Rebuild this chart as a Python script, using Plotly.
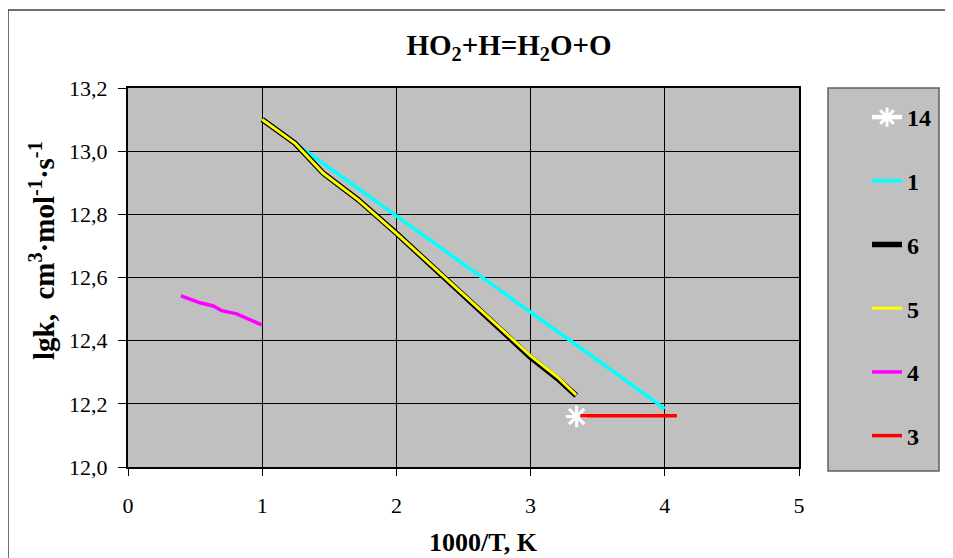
import plotly.graph_objects as go

# ---- data ----
s14_x = [3.343]
s14_y = [12.16]

s1_x = [1.0, 1.5, 2.0, 2.5, 3.0, 3.5, 4.0]
s1_y = [13.10, 12.947, 12.795, 12.64, 12.49, 12.338, 12.185]

s6_x = [1.0, 1.245, 1.455, 1.716, 2.0, 2.25, 2.5, 2.75, 3.0, 3.2, 3.34]
s6_y = [13.10, 13.025, 12.93, 12.846, 12.74, 12.643, 12.546, 12.448, 12.347, 12.28, 12.226]

s5_x = [1.0, 1.245, 1.455, 1.716, 2.0, 2.25, 2.5, 2.75, 3.0, 3.2, 3.34]
s5_y = [13.10, 13.025, 12.93, 12.846, 12.74, 12.643, 12.546, 12.45, 12.352, 12.285, 12.228]

s4_x = [0.395, 0.537, 0.636, 0.698, 0.81, 0.896, 0.996]
s4_y = [12.542, 12.52, 12.51, 12.495, 12.485, 12.468, 12.45]

s3_x = [3.37, 4.09]
s3_y = [12.162, 12.162]

x_ticks = [0, 1, 2, 3, 4, 5]
y_ticks = [12.0, 12.2, 12.4, 12.6, 12.8, 13.0, 13.2]

FONT = "Liberation Serif, Times New Roman, serif"

fig = go.Figure()
fig.add_trace(go.Scatter(x=s14_x, y=s14_y, name="14", legendgroup="g14",
                         mode="lines+markers",
                         line=dict(color="white", width=4.5),
                         marker=dict(symbol="asterisk-open", size=18,
                                     color="white", line=dict(color="white", width=3))))
fig.add_trace(go.Scatter(x=s1_x, y=s1_y, name="1", legendgroup="g1", mode="lines",
                         line=dict(color="#00ffff", width=3.5)))
fig.add_trace(go.Scatter(x=s6_x, y=s6_y, name="6", legendgroup="g6", mode="lines",
                         line=dict(color="black", width=5.5)))
fig.add_trace(go.Scatter(x=s5_x, y=s5_y, name="5", legendgroup="g5", mode="lines",
                         line=dict(color="#ffff00", width=3)))
fig.add_trace(go.Scatter(x=s4_x, y=s4_y, name="4", legendgroup="g4", mode="lines",
                         line=dict(color="#ff00ff", width=3.5)))
fig.add_trace(go.Scatter(x=s3_x, y=s3_y, name="3", legendgroup="g3", mode="lines",
                         line=dict(color="#ff0000", width=3.5)))

# page has an 8px body margin; work in page pixels and convert
OFF = 8
W, H = 953 - OFF, 558 - OFF
PL, PR, PT, PB = 128, 799, 88, 467          # plot area in page pixels
L, T = PL - OFF, PT - OFF
R, B = W - (PR - OFF), H - (PB - OFF)
PW, PH = PR - PL, PB - PT

def px_x(p):
    return (p - PL) / PW

def px_y(p):
    return (PB - p) / PH

fig.update_layout(
    width=W, height=H,
    margin=dict(l=L, r=R, t=T, b=B),
    paper_bgcolor="white",
    plot_bgcolor="#c0c0c0",
    separators=", ",
    font=dict(family=FONT, size=22, color="black"),
    title=dict(text="<b>HO<sub>2</sub>+H=H<sub>2</sub>O+O</b>",
               x=(509 - OFF) / W, xanchor="center", y=1 - (45 - OFF) / H, yanchor="middle",
               font=dict(family=FONT, size=29, color="black")),
    showlegend=True,
    legend=dict(x=px_x(867), xanchor="left", y=px_y(95), yanchor="top",
                bgcolor="rgba(0,0,0,0)", borderwidth=0,
                font=dict(family=FONT, size=24, color="black", weight="bold"),
                tracegroupgap=29.5, traceorder="grouped"),
    xaxis=dict(range=[0, 5], tickvals=x_ticks, tickformat="d",
               showgrid=True, gridcolor="black", gridwidth=1,
               zeroline=False, showline=True, linecolor="black", linewidth=2, mirror=True,
               ticks="outside", ticklen=7, tickcolor="black",
               ticklabelstandoff=11,
               tickfont=dict(family=FONT, size=22, color="black")),
    yaxis=dict(range=[12.0, 13.2], tickvals=y_ticks, tickformat=".1f",
               showgrid=True, gridcolor="black", gridwidth=1,
               zeroline=False, showline=True, linecolor="black", linewidth=2, mirror=True,
               ticks="outside", ticklen=8, tickcolor="black",
               ticklabelstandoff=6,
               tickfont=dict(family=FONT, size=22, color="black")),
    shapes=[
        dict(type="rect", xref="paper", yref="paper",
             x0=px_x(8), x1=px_x(980), y0=px_y(590), y1=px_y(10),
             line=dict(color="#404040", width=1.5), fillcolor="rgba(0,0,0,0)",
             layer="below"),
        dict(type="rect", xref="paper", yref="paper",
             x0=px_x(828), x1=px_x(939), y0=px_y(471), y1=px_y(88),
             line=dict(color="#606060", width=1.5), fillcolor="#c0c0c0",
             layer="below"),
    ],
    annotations=[
        dict(text="<b>lgk,\u00a0\u00a0cm<sup>3</sup>·mol<sup>-1</sup>·s<sup>-1</sup></b>",
             xref="paper", yref="paper", x=px_x(42), y=px_y(251),
             xanchor="center", yanchor="middle", textangle=-90, showarrow=False,
             font=dict(family=FONT, size=29, color="black")),
        dict(text="<b>1000/T, K</b>",
             xref="paper", yref="paper", x=px_x(483), y=px_y(542),
             xanchor="center", yanchor="middle", showarrow=False,
             font=dict(family=FONT, size=26, color="black")),
    ],
)

fig.write_html("out.html")
